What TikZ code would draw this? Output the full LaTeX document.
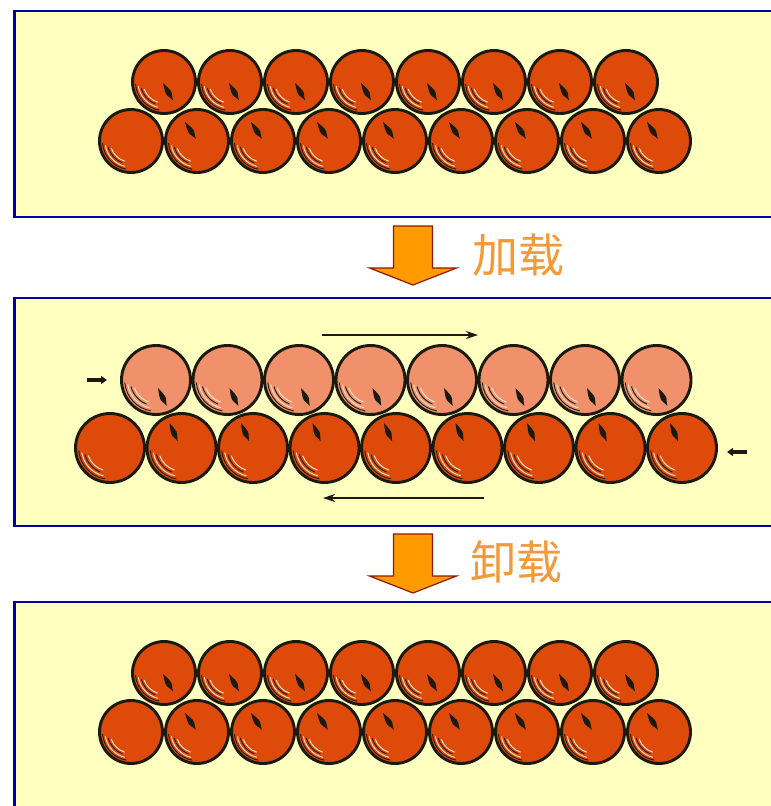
\documentclass[tikz,border=0pt]{standalone}
\usepackage{fontspec}
\newfontfamily\cjkfont{Noto Sans CJK SC}
\usetikzlibrary{positioning, arrows.meta, calc}

\definecolor{cPanel}{HTML}{FFFFC0}
\definecolor{cFrame}{HTML}{00009C}
\definecolor{cBall}{HTML}{DE4A0A}
\definecolor{cBallLt}{HTML}{F0916C}
\definecolor{cInk}{HTML}{1A1A10}
\definecolor{cShine}{HTML}{F6E2C0}
\definecolor{cArrow}{HTML}{FF9A00}
\definecolor{cArrowDk}{HTML}{8E1A00}
\definecolor{cWord}{HTML}{F29A38}

\tikzset{
  panel/.style={fill=cPanel, draw=cFrame, line width=2.4pt},
  ball/.style={circle, fill=#1, draw=cInk, line width=2.9pt, inner sep=0pt, minimum size=63pt},
  bigball/.style={ball=#1, minimum size=69pt},
  shine/.style={cShine, line width=1pt, line cap=round},
  shinedk/.style={cInk, line width=0.9pt, line cap=round},
  shear/.style={-{Stealth[length=12pt, width=8pt]}, cInk, line width=1.5pt},
  push/.style={-{Triangle[length=6pt, width=8pt]}, cInk, line width=3.2pt},
  word/.style={font=\cjkfont\fontsize{46}{46}\selectfont, text=cWord, inner sep=0pt},
  % grain mark on a ball: thin at the start, thick near the end
  pics/seed/.style={code={
    \fill[cInk] (0,0) .. controls (6,-1.8) and (10,-3.4) .. (13,-2.6)
      .. controls (16,-1.4) and (18,-0.4) .. (20,0)
      .. controls (18,0.4) and (16,1.4) .. (13,2.6)
      .. controls (10,3.4) and (6,1.8) .. (0,0) -- cycle;
  }},
  % gloss lines in the lower left of a ball
  pics/gloss/.style={code={
    \draw[shine]   (108:#1*0.68) arc[start angle=108, end angle=160, radius=#1*0.68];
    \draw[shinedk] (112:#1*0.76) arc[start angle=112, end angle=165, radius=#1*0.76];
    \draw[shine]   (104:#1*0.84) arc[start angle=104, end angle=170, radius=#1*0.84];
    \draw[shinedk] (100:#1*0.92) arc[start angle=100, end angle=175, radius=#1*0.92];
  }},
  pics/downarrow/.style={code={
    \filldraw[fill=cArrow, draw=cArrowDk, line width=1.2pt, line join=miter]
      (-19.5,0) -- (19.5,0) -- (19.5,42) -- (43.5,42) -- (0,59)
      -- (-43.5,42) -- (-19.5,42) -- cycle;
  }},
}

\begin{document}
\begin{tikzpicture}[x=1pt, y=-1pt]
  \useasboundingbox (0,0) rectangle (771,806);
  \fill[white] (0,0) rectangle (771,806);

  % frames
  \path[panel] (14.5,11) rectangle (790,217);
  \path[panel] (14.5,298) rectangle (790,526);
  \path[panel] (14.5,602) rectangle (790,830);

  % stacked layers before loading and after unloading
  \foreach \p/\dy in {a/0, c/591} {
    \foreach \i in {0,...,7} {
      \node[ball=cBall] (\p-t\i) at (164+66*\i, 82+\dy) {};
      \pic at (\p-t\i) {gloss=31};
      \pic[rotate=-60] at ($(\p-t\i)+(-1,1)$) {seed};
    }
    \foreach \i in {0,...,8} {
      \node[ball=cBall] (\p-b\i) at (131+66*\i, 141+\dy) {};
      \pic at (\p-b\i) {gloss=31};
    }
    \foreach \i in {1,...,8}
      \pic[rotate=-57] at ($(\p-b\i)+(-12,-19)$) {seed};
  }

  % sheared layers under load
  \foreach \i in {0,...,7} {
    \node[bigball=cBallLt] (b-t\i) at (156+71.5*\i, 380) {};
    \pic at (b-t\i) {gloss=34};
    \pic[rotate=-64] at ($(b-t\i)+(2,8)$) {seed};
  }
  \foreach \i in {0,...,8} {
    \node[bigball=cBall] (b-b\i) at (110+71.5*\i, 448) {};
    \pic at (b-b\i) {gloss=34};
  }
  \foreach \i in {1,...,8}
    \pic[rotate=-66] at ($(b-b\i)+(-12,-25)$) {seed};

  \coordinate (topL) at (322,335);
  \coordinate (topR) at (478,335);
  \coordinate (botL) at (323,498);
  \coordinate (botR) at (484,498);
  \coordinate (pushL) at (87,380);
  \coordinate (pushR) at (747,452);
  \draw[shear] (topL) -- (topR);
  \draw[shear] (botR) -- (botL);
  \draw[push] (pushL) -- +(20,0);
  \draw[push] (pushR) -- +(-20,0);

  % steps
  \pic at (413,226) {downarrow};
  \pic at (413,534) {downarrow};
  \node[word] (load) at (518,255) {加载};
  \node[word] (unload) at (516,562) {卸载};

\end{tikzpicture}
\end{document}
